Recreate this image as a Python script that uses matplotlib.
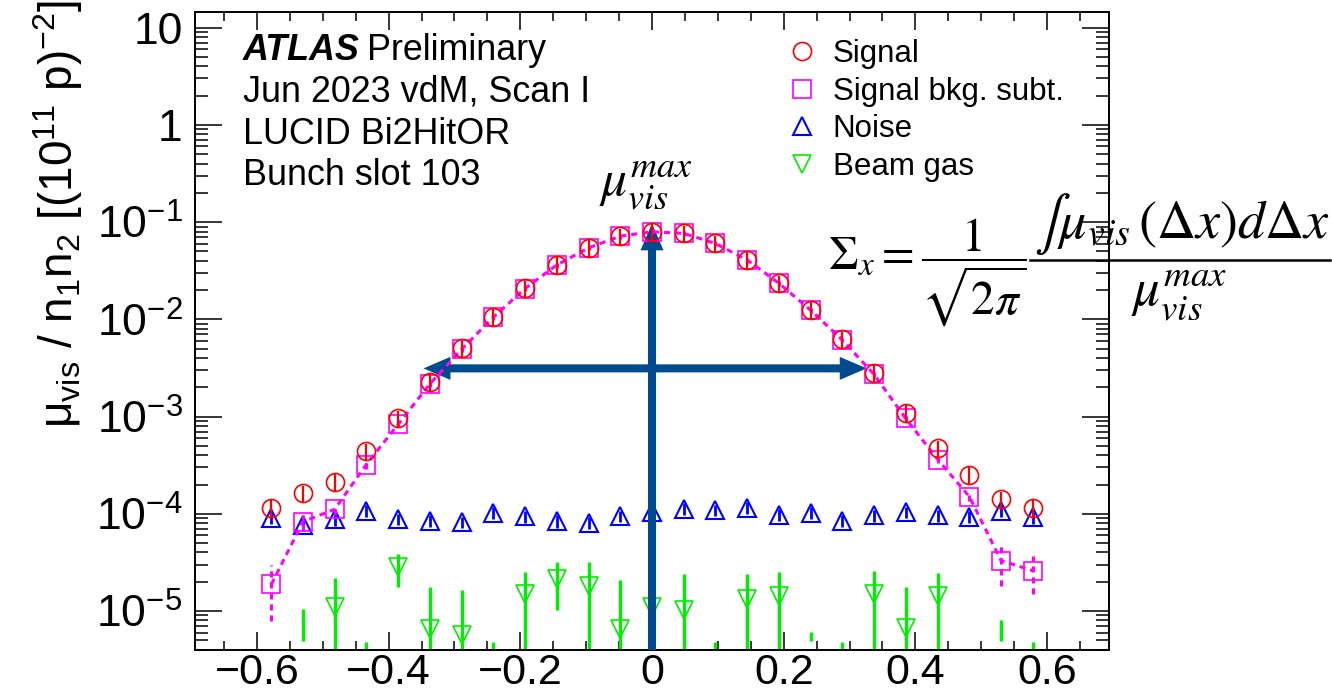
import numpy as np
import matplotlib
matplotlib.use("Agg")
import matplotlib.pyplot as plt
from matplotlib.lines import Line2D
from matplotlib.ticker import FixedLocator, LogLocator, NullFormatter, FuncFormatter

plt.rcParams["font.family"] = ["Liberation Sans", "DejaVu Sans"]
plt.rcParams["mathtext.fontset"] = "custom"
plt.rcParams["mathtext.rm"] = "Liberation Sans"
plt.rcParams["mathtext.it"] = "Liberation Sans:italic"
plt.rcParams["mathtext.bf"] = "Liberation Sans:bold"

# beam separation of each scan step
sep = [-0.578, -0.530, -0.482, -0.434, -0.385, -0.337, -0.289, -0.241, -0.193,
       -0.145, -0.096, -0.048, 0.0, 0.048, 0.096, 0.145, 0.193, 0.241, 0.289,
       0.337, 0.385, 0.434, 0.482, 0.530, 0.578]

# signal (raw)
signal = [1.14e-4, 1.62e-4, 2.13e-4, 4.4e-4, 9.6e-4, 2.28e-3, 5.03e-3, 1.06e-2,
          2.08e-2, 3.62e-2, 5.46e-2, 7.19e-2, 7.96e-2, 7.67e-2, 6.05e-2, 4.07e-2,
          2.35e-2, 1.25e-2, 6.22e-3, 2.82e-3, 1.08e-3, 4.7e-4, 2.50e-4, 1.41e-4,
          1.14e-4]
signal_err = [2.3e-5, 3.2e-5, 4.3e-5, 8.8e-5, 1.9e-4, 4.6e-4, 1.0e-3, 2.1e-3,
              4.2e-3, 7.2e-3, 1.1e-2, 1.4e-2, 1.6e-2, 1.5e-2, 1.2e-2, 8.1e-3,
              4.7e-3, 2.5e-3, 1.2e-3, 5.6e-4, 2.2e-4, 9.4e-5, 5.0e-5, 2.8e-5,
              2.3e-5]

# signal after background subtraction
signal_sub = [1.88e-5, 8.3e-5, 1.11e-4, 3.2e-4, 8.4e-4, 2.18e-3, 4.93e-3, 1.05e-2,
              2.07e-2, 3.61e-2, 5.45e-2, 7.18e-2, 7.95e-2, 7.66e-2, 6.04e-2,
              4.06e-2, 2.34e-2, 1.24e-2, 6.13e-3, 2.72e-3, 9.6e-4, 3.6e-4,
              1.5e-4, 3.3e-5, 2.6e-5]
signal_sub_err = [1.1e-5, 1.5e-5, 1.5e-5, 3e-5, 6e-5, 1.5e-4, 3e-4, 6e-4, 1.2e-3,
                  2e-3, 3e-3, 4e-3, 4.5e-3, 4.3e-3, 3.4e-3, 2.3e-3, 1.3e-3, 7e-4,
                  3.5e-4, 1.6e-4, 6e-5, 3e-5, 1.5e-5, 1.5e-5, 1.1e-5]

# noise
noise = [9.1e-5, 7.7e-5, 8.75e-5, 1.08e-4, 8.8e-5, 8.5e-5, 8.2e-5, 1.03e-4, 9.4e-5,
         8.4e-5, 8.1e-5, 9.5e-5, 1.05e-4, 1.13e-4, 1.09e-4, 1.16e-4, 9.8e-5,
         1.03e-4, 8.45e-5, 9.6e-5, 1.04e-4, 9.6e-5, 9.3e-5, 1.08e-4, 9.2e-5]
noise_err = [1.3e-5, 1.1e-5, 1.2e-5, 1.5e-5, 1.2e-5, 1.2e-5, 1.1e-5, 1.4e-5, 1.3e-5,
             1.2e-5, 1.1e-5, 1.3e-5, 1.4e-5, 1.5e-5, 1.5e-5, 1.6e-5, 1.3e-5,
             1.4e-5, 1.2e-5, 1.3e-5, 1.4e-5, 1.3e-5, 1.3e-5, 1.5e-5, 1.3e-5]

# beam gas (nan = below the plotted range), with error bar ends
nan = np.nan
beamgas = [nan, nan, 1.10e-5, nan, 2.82e-5, 6.5e-6, 5.7e-6, nan, 1.50e-5, 2.15e-5,
           1.82e-5, 6.6e-6, 1.1e-5, 1.02e-5, nan, 1.33e-5, 1.43e-5, nan, nan,
           1.48e-5, 6.7e-6, 1.43e-5, nan, nan, nan]
beamgas_lo = [nan, 4.93e-6, 1e-6, 1e-6, 1.75e-5, 1e-6, 1e-6, 1e-6, 1e-6, 1.02e-5,
              1e-6, 1e-6, 1e-6, 1e-6, 1e-6, 1e-6, 1e-6, 4.93e-6, 1e-6, 1e-6, 1e-6,
              1e-6, nan, 4.93e-6, 1e-6]
beamgas_hi = [nan, 1.06e-5, 2.16e-5, 4.82e-6, 3.85e-5, 1.77e-5, 1.64e-5, 4.82e-6,
              2.53e-5, 3.2e-5, 3.2e-5, 2.07e-5, 2.3e-5, 2.4e-5, 4.82e-6, 2.4e-5,
              2.53e-5, 6.1e-6, 4.82e-6, 2.59e-5, 1.77e-5, 2.47e-5, nan, 8.05e-6,
              4.82e-6]

# illustration arrows: peak height and width level
arrow_top = 0.097
arrow_level = 3.13e-3
arrow_left = -0.347
arrow_right = 0.326

x_ticks = [-0.6, -0.4, -0.2, 0.0, 0.2, 0.4, 0.6]
x_minor = [-0.65, -0.55, -0.5, -0.45, -0.35, -0.3, -0.25, -0.15, -0.1, -0.05,
           0.05, 0.1, 0.15, 0.25, 0.3, 0.35, 0.45, 0.5, 0.55, 0.65]
y_ticks = [1e-5, 1e-4, 1e-3, 1e-2, 1e-1, 1, 10]
x_range = (-0.694, 0.694)
y_range = (3.97e-6, 14.6)

RED = "#ff0000"
MAGENTA = "#ff00ff"
BLUE = "#0000ff"
GREEN = "#00ee00"
ARROW = "#004a8e"

W, H = 1332, 699
fig = plt.figure(figsize=(W / 100, H / 100), dpi=100)
ax = fig.add_axes([0.1464, 0.0701, 0.6862, 0.9132])
ax.set_yscale("log")
ax.set_xlim(*x_range)
ax.set_ylim(*y_range)

# beam gas
ax.vlines(sep, beamgas_lo, beamgas_hi, color=GREEN, lw=2.4, zorder=2)
ax.plot(sep, beamgas, ls="none", marker="v", ms=13.5, mfc="none", mec=GREEN,
        mew=1.2, zorder=2)

# noise
ax.errorbar(sep, noise, yerr=noise_err, fmt="^", ms=13.5, mfc="none", mec=BLUE,
            mew=1.5, ecolor=BLUE, elinewidth=2.0, capsize=0, zorder=2)

# arrows
arrow_style = "simple,head_length=0.97,head_width=0.83,tail_width=0.29"
for start, end in [((0, y_range[0]), (0, arrow_top)),
                   ((0, arrow_level), (arrow_left, arrow_level)),
                   ((0, arrow_level), (arrow_right, arrow_level))]:
    ax.annotate("", xy=end, xytext=start,
                arrowprops=dict(arrowstyle=arrow_style, mutation_scale=20,
                                color=ARROW, lw=0, shrinkA=0, shrinkB=0),
                zorder=3)

# background-subtracted signal: dashed line and dashed error bars
ax.plot(sep, signal_sub, ls=(0, (2.0, 1.6)), lw=2.2, color=MAGENTA, zorder=4)
sub_lo = [v - e for v, e in zip(signal_sub, signal_sub_err)]
sub_hi = [v + e for v, e in zip(signal_sub, signal_sub_err)]
ax.vlines(sep, sub_lo, sub_hi, color=MAGENTA, lw=2.2, linestyles=(0, (2.0, 1.6)),
          zorder=4)
ax.plot(sep, signal_sub, ls="none", marker="s", ms=13, mfc="none", mec=MAGENTA,
        mew=1.2, zorder=4)

# raw signal
ax.errorbar(sep, signal, yerr=signal_err, fmt="o", ms=13, mfc="none", mec=RED,
            mew=1.2, ecolor=RED, elinewidth=1.6, capsize=0, zorder=5)

# axes style
ax.xaxis.set_major_locator(FixedLocator(x_ticks))
ax.xaxis.set_minor_locator(FixedLocator(x_minor))
ax.xaxis.set_major_formatter(FuncFormatter(
    lambda v, pos: "0" if abs(v) < 1e-9 else ("%.1f" % v).replace("-", "\u2212")))
ax.yaxis.set_major_locator(FixedLocator(y_ticks))
ax.yaxis.set_minor_locator(LogLocator(base=10, subs=np.arange(2, 10), numticks=100))
ax.yaxis.set_minor_formatter(NullFormatter())


def log_label(v, pos):
    e = int(round(np.log10(v)))
    if e == 0:
        return "1"
    if e == 1:
        return "10"
    return r"$10^{%d}$" % e


ax.yaxis.set_major_formatter(FuncFormatter(log_label))
ax.tick_params(axis="both", which="both", direction="in", top=True, right=True,
               width=1.1)
ax.tick_params(axis="x", which="major", length=13, pad=2, labelsize=31)
ax.tick_params(axis="x", which="minor", length=6.5)
ax.tick_params(axis="y", which="major", length=19.4, pad=9, labelsize=32)
ax.tick_params(axis="y", which="minor", length=9.7)
for s in ax.spines.values():
    s.set_linewidth(1.4)

ax.set_ylabel(r"μ$_{\mathrm{vis}}$ / n$_{1}$n$_{2}$ [(10$^{11}$ p)$^{-2}$]",
              fontsize=33, loc="top")
ax.yaxis.set_label_coords(-0.150, 1.018)
ax.yaxis.label.set_va("center")

# ATLAS label block
t = ax.text(0.0525, 0.9243, "ATLAS", transform=ax.transAxes, fontsize=25.8,
            fontweight="bold", fontstyle="italic", va="baseline")
fig.canvas.draw()
bb = t.get_window_extent().transformed(ax.transAxes.inverted())
ax.text(bb.x1 + 0.008, 0.9243, "Preliminary", transform=ax.transAxes,
        fontsize=25.8, va="baseline")
for i, line in enumerate(["Jun 2023 vdM, Scan I", "LUCID Bi2HitOR",
                          "Bunch slot 103"]):
    ax.text(0.0525, [0.859, 0.7927, 0.7285][i], line, transform=ax.transAxes,
            fontsize=25.8, va="baseline")

# legend
handles = [
    Line2D([], [], ls="none", marker="o", ms=13, mfc="none", mec=RED, mew=1.2),
    Line2D([], [], ls="none", marker="s", ms=13, mfc="none", mec=MAGENTA, mew=1.2),
    Line2D([], [], ls="none", marker="^", ms=13.5, mfc="none", mec=BLUE, mew=1.5),
    Line2D([], [], ls="none", marker="v", ms=13.5, mfc="none", mec=GREEN, mew=1.2),
]
labels = ["Signal", "Signal bkg. subt.", "Noise", "Beam gas"]
ax.legend(handles, labels, loc="upper left", bbox_to_anchor=(0.6474, 0.9566),
          frameon=False, fontsize=22.5, handlelength=1.0, handletextpad=0.47,
          borderpad=0, borderaxespad=0, labelspacing=0.24)

# formula annotations (placed in figure pixels, as pasted on the plot)
def px(x, y):
    return x / W, 1 - y / H


fig.text(*px(646, 186), r"$\mu_{vis}^{max}$", fontsize=37,
         math_fontfamily="stix", ha="center", va="center")
fig.text(*px(828, 272), r"$\Sigma_x = \dfrac{1}{\sqrt{2\pi}}$", fontsize=34,
         math_fontfamily="stix", ha="left", va="center")
fig.text(*px(1182, 238), r"$\int\mu_{vis}\,(\Delta x)d\Delta x$", fontsize=39,
         math_fontfamily="stix", ha="center", va="baseline")
fig.add_artist(Line2D([1030 / W, 1330 / W], [1 - 260 / H, 1 - 260 / H],
                      transform=fig.transFigure, color="black", lw=1.8))
fig.text(*px(1179, 295), r"$\mu_{vis}^{max}$", fontsize=38,
         math_fontfamily="stix", ha="center", va="center")

fig.savefig("out.png", dpi=100)
